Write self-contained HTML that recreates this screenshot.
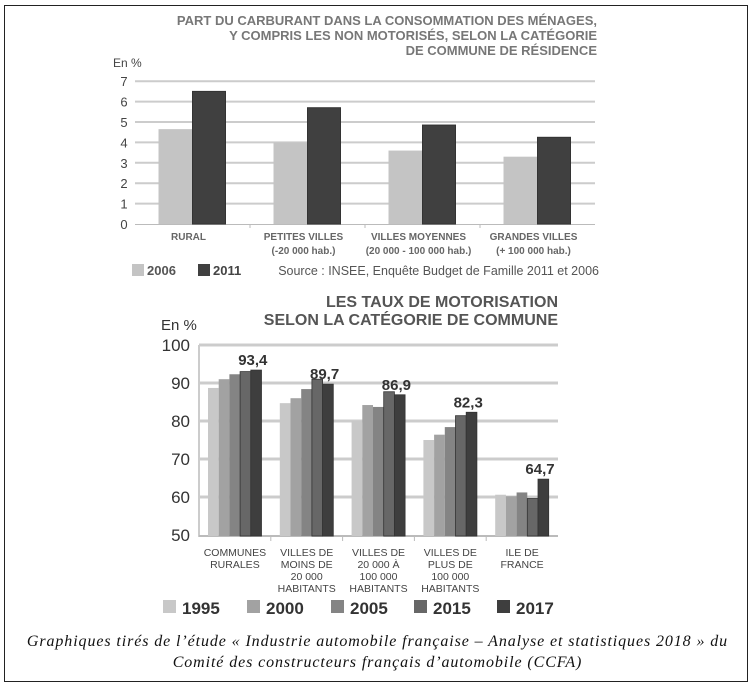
<!DOCTYPE html>
<html><head><meta charset="utf-8"><style>
html,body{margin:0;padding:0;background:#fff;}
body{width:755px;height:688px;position:relative;overflow:hidden;font-family:"Liberation Sans",sans-serif;}
#frame{position:absolute;left:4px;top:5px;width:744px;height:677px;border:1px solid #222;box-sizing:border-box;}
#cap{position:absolute;left:0;top:631px;width:755px;text-align:center;font-family:"Liberation Serif",serif;font-style:italic;font-size:16px;letter-spacing:0.9px;line-height:21px;color:#111;}
</style></head><body>
<div id="frame"></div>
<svg id="svg" width="755" height="688" style="position:absolute;left:0;top:0"></svg>
<div id="cap">Graphiques tirés de l’étude « Industrie automobile française – Analyse et statistiques 2018 » du<br>Comité des constructeurs français d’automobile (CCFA)</div>
<script>
const cat1 = ["RURAL","PETITES VILLES|(-20 000 hab.)","VILLES MOYENNES|(20 000 - 100 000 hab.)","GRANDES VILLES|(+ 100 000 hab.)"];
const s2006 = [4.65, 4.0, 3.6, 3.3];
const s2011 = [6.5, 5.7, 4.85, 4.25];
const ticks1 = [0,1,2,3,4,5,6,7];

const cat2 = ["COMMUNES|RURALES","VILLES DE|MOINS DE|20 000|HABITANTS","VILLES DE|20 000 À|100 000|HABITANTS","VILLES DE|PLUS DE|100 000|HABITANTS","ILE DE|FRANCE"];
const s1995 = [88.7, 84.7, 80.0, 75.0, 60.6];
const s2000 = [91.0, 86.0, 84.2, 76.4, 60.2];
const s2005 = [92.3, 88.4, 83.7, 78.4, 61.2];
const s2015 = [93.0, 91.0, 87.7, 81.4, 59.6];
const s2017 = [93.4, 89.7, 86.9, 82.3, 64.7];
const labels2017 = ["93,4","89,7","86,9","82,3","64,7"];
const ticks2 = [50,60,70,80,90,100];
const years2 = ["1995","2000","2005","2015","2017"];

const svg=document.getElementById('svg');
const NS="http://www.w3.org/2000/svg";
function mk(tag,attrs,parent){const e=document.createElementNS(NS,tag);for(const k in attrs)e.setAttribute(k,attrs[k]);(parent||svg).appendChild(e);return e;}
function txt(x,y,s,attrs){const e=mk('text',Object.assign({x:x,y:y},attrs));e.textContent=s;return e;}

// ---- Chart 1 ----
const y1=v=>224-v*20.4;
const x1L=135,x1R=595,cw1=(x1R-x1L)/cat1.length;
[["PART DU CARBURANT DANS LA CONSOMMATION DES MÉNAGES,",25],["Y COMPRIS LES NON MOTORISÉS, SELON LA CATÉGORIE",40],["DE COMMUNE DE RÉSIDENCE",55]].forEach((t,i)=>{
 const e=txt(597,t[1],t[0],{'text-anchor':'end','font-size':'13','font-weight':'bold',fill:'#777'});
 
 
});
let e=txt(113,67,"En %",{'font-size':'12',fill:'#444'});


ticks1.forEach(t=>{
 if(t>0){const g=mk('line',{x1:x1L,x2:x1R,y1:y1(t),y2:y1(t),stroke:'#ccc','stroke-width':'2'});
 
 }
 const l=txt(124,y1(t)+5,String(t),{'text-anchor':'middle','font-size':'13',fill:'#444'});
 
 
});
let ax=mk('line',{x1:x1L,x2:x1R,y1:224.5,y2:224.5,stroke:'#bbb','stroke-width':'1'});


cat1.forEach((c,i)=>{
 const cx=x1L+cw1*(i+0.5);
 const b1=mk('rect',{x:cx-34,y:y1(s2006[i]),width:34,height:224-y1(s2006[i]),fill:'#c4c4c4'});
 
 
 const b2=mk('rect',{x:cx,y:y1(s2011[i]),width:33,height:224-y1(s2011[i]),fill:'#404040',stroke:'#333','stroke-width':'1'});
 
 
 if(i>0){const tk=mk('line',{x1:x1L+cw1*i,x2:x1L+cw1*i,y1:224,y2:228,stroke:'#bbb'});}
 c.split('|').forEach((ln,j)=>{const l=txt(cx-4,240+j*14,ln,{'text-anchor':'middle','font-size':'10','font-weight':'bold',fill:'#666'});
 
 });
});
let r=mk('rect',{x:132,y:264,width:12,height:12,fill:'#c4c4c4'});
e=txt(147,275,"2006",{'font-size':'13','font-weight':'bold',fill:'#555'});
r=mk('rect',{x:198,y:264,width:12,height:12,fill:'#404040'});
e=txt(213,275,"2011",{'font-size':'13','font-weight':'bold',fill:'#444'});
e=txt(599,275,"Source : INSEE, Enquête Budget de Famille 2011 et 2006",{'text-anchor':'end','font-size':'12.5',fill:'#555'});

// ---- Chart 2 ----
const y2=v=>535-(v-50)*3.8;
const x2L=199,x2R=558,cw2=(x2R-x2L)/cat2.length;
[["LES TAUX DE MOTORISATION",307],["SELON LA CATÉGORIE DE COMMUNE",325]].forEach(t=>{
 const l=txt(558,t[1],t[0],{'text-anchor':'end','font-size':'16','font-weight':'bold',fill:'#555'});
 
 
});
e=txt(161,330,"En %",{'font-size':'15',fill:'#333'});
ticks2.forEach(t=>{
 if(t>50){const g=mk('line',{x1:x2L,x2:x2R,y1:y2(t),y2:y2(t),stroke:'#ccc','stroke-width':'3'});
 }
 const l=txt(190,y2(t)+6,String(t),{'text-anchor':'end','font-size':'17',fill:'#333'});
 
});
ax=mk('line',{x1:x2L,x2:x2L,y1:345,y2:537,stroke:'#ccc','stroke-width':'2'});
ax=mk('line',{x1:x2L,x2:x2R,y1:536,y2:536,stroke:'#bbb','stroke-width':'2'});
const series2=[s1995,s2000,s2005,s2015,s2017];
const cols2=['#c8c8c8','#a2a2a2','#848484','#676767','#3e3e3e'];
cat2.forEach((c,i)=>{
 const x0=x2L+cw2*i+9, bw=10.7;
 series2.forEach((s,k)=>{
  const b=mk('rect',{x:x0+k*bw,y:y2(s[i]),width:bw,height:536-y2(s[i]),fill:cols2[k],stroke:k>=3?'#333':'none','stroke-width':'0.8'});
  
  
 });
 const vl=txt(x0+4*bw+2,y2(s2017[i])-5,labels2017[i],{'text-anchor':'middle','font-size':'15','font-weight':'bold',fill:'#333'});
 
 if(i>0){const tk=mk('line',{x1:x2L+cw2*i,x2:x2L+cw2*i,y1:536,y2:541,stroke:'#bbb'});}
 c.split('|').forEach((ln,j)=>{const l=txt(x2L+cw2*(i+0.5),556+j*12,ln,{'text-anchor':'middle','font-size':'10.5',fill:'#444'});
 });
});
[163,247,331,414,497].forEach((lx,k)=>{
 const sw=mk('rect',{x:lx,y:600,width:13,height:13,fill:cols2[k]});
 
 const l=txt(lx+19,614,years2[k],{'font-size':'17','font-weight':'bold',fill:'#333'});
 
});
</script>
</body></html>
